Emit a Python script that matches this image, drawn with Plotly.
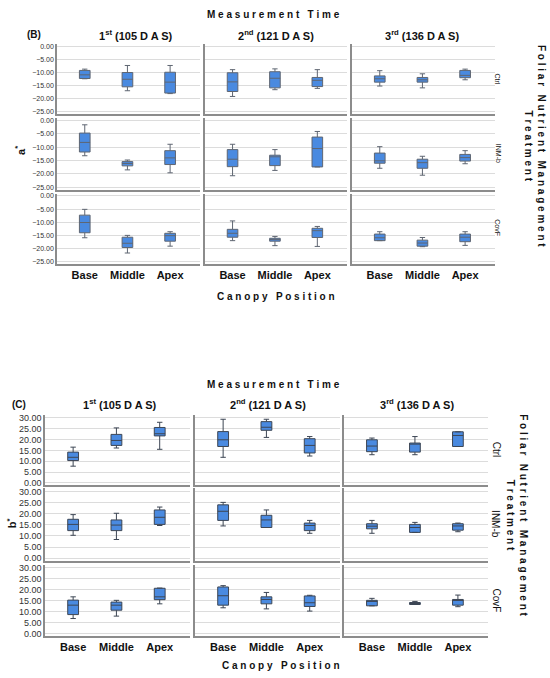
import plotly.graph_objects as go

# canopy positions, measurement times and treatments
positions = ["Base", "Middle", "Apex"]
times = ["1<sup>st</sup> (105 D A S)", "2<sup>nd</sup> (121 D A S)", "3<sup>rd</sup> (136 D A S)"]
treatments = ["Ctrl", "INM-b", "CovF"]

# a* box stats  [treatment][time] -> [Base, Middle, Apex]
a_low = [
    [[-12.3, -16.9, -18.0], [-19.1, -16.5, -16.0], [-15.1, -15.8, -12.7]],
    [[-13.2, -18.5, -19.6], [-20.7, -18.7, -17.4], [-17.9, -20.5, -16.2]],
    [[-15.9, -21.7, -19.1], [-17.0, -18.9, -19.2], [-17.0, -19.3, -18.8]],
]
a_q1 = [
    [[-12.2, -15.4, -17.8], [-17.2, -15.8, -15.3], [-13.6, -13.6, -11.9]],
    [[-11.8, -17.0, -16.5], [-17.3, -16.9, -17.4], [-16.0, -17.9, -15.2]],
    [[-14.0, -19.6, -17.2], [-15.7, -17.2, -15.8], [-17.0, -19.1, -17.4]],
]
a_med = [
    [[-10.8, -12.5, -13.6], [-13.5, -12.1, -12.9], [-12.3, -12.7, -11.0]],
    [[-8.2, -16.1, -14.0], [-14.5, -13.6, -10.5], [-15.1, -15.8, -13.9]],
    [[-10.1, -18.0, -15.1], [-14.2, -16.6, -13.2], [-15.9, -17.9, -15.7]],
]
a_q3 = [
    [[-9.1, -9.9, -9.8], [-10.0, -9.6, -11.8], [-11.2, -11.8, -9.1]],
    [[-4.7, -15.4, -11.3], [-10.9, -13.0, -6.2], [-12.2, -14.5, -12.7]],
    [[-7.3, -15.7, -14.2], [-12.7, -16.1, -12.3], [-14.5, -16.8, -14.5]],
]
a_high = [
    [[-8.6, -7.2, -7.2], [-8.8, -8.5, -8.8], [-9.2, -10.4, -8.6]],
    [[-1.6, -14.8, -8.9], [-8.9, -10.9, -4.1], [-9.8, -13.4, -11.3]],
    [[-5.1, -15.0, -13.6], [-9.5, -15.4, -11.6], [-13.6, -15.8, -13.6]],
]

# b* box stats  [treatment][time] -> [Base, Middle, Apex]
b_low = [
    [[7.7, 16.1, 15.5], [11.8, 21.0, 12.4], [13.0, 13.0, 16.8]],
    [[10.3, 8.4, 14.7], [14.5, 13.8, 11.2], [11.2, 11.6, 11.9]],
    [[6.9, 8.0, 13.6], [11.8, 11.3, 10.3], [12.7, 13.3, 12.3]],
]
b_q1 = [
    [[10.3, 17.3, 21.7], [16.8, 24.3, 13.8], [14.4, 14.2, 16.8]],
    [[12.4, 12.4, 15.2], [17.0, 13.8, 12.4], [13.2, 11.6, 12.6]],
    [[8.7, 10.7, 15.5], [13.0, 13.6, 12.4], [12.7, 13.3, 13.0]],
]
b_med = [
    [[11.8, 19.6, 22.7], [19.9, 25.7, 17.3], [17.0, 17.9, 21.9]],
    [[15.2, 14.9, 18.4], [21.1, 17.2, 14.7], [14.4, 13.8, 14.5]],
    [[13.0, 13.0, 16.8], [17.3, 15.6, 14.1], [14.7, 13.8, 15.3]],
]
b_q3 = [
    [[14.2, 22.4, 25.6], [23.7, 28.3, 20.4], [19.9, 18.4, 23.6]],
    [[17.5, 17.2, 21.7], [24.0, 19.3, 15.8], [15.5, 15.2, 15.5]],
    [[15.3, 14.4, 20.7], [21.3, 16.8, 17.2], [15.2, 14.2, 15.6]],
]
b_high = [
    [[16.5, 25.4, 28.0], [29.4, 29.4, 21.4], [20.7, 21.4, 23.6]],
    [[19.6, 20.2, 23.0], [25.1, 21.7, 17.0], [17.0, 16.1, 15.8]],
    [[16.8, 15.2, 20.8], [21.9, 18.8, 17.5], [16.1, 14.7, 17.6]],
]

W, H = 550, 678
FONT = "Liberation Sans, Arial, sans-serif"
BOX_FILL = "#4a8ae0"
BOX_LINE = "#3d4654"


def px(x):
    return x / W


def py(y):
    return 1 - y / H


def spaced(s):
    # letter-spaced look of the SPSS titles
    return " ".join(s)


fig = go.Figure()

panels = [
    dict(stats=(a_low, a_q1, a_med, a_q3, a_high),
         cols=[(57, 200), (205, 347), (352, 495)],
         rows=[(42.7, 113), (117, 189), (193, 264)],
         yrange=[-25.9, 0.9], ytick=7, line="#5f6672"),
    dict(stats=(b_low, b_q1, b_med, b_q3, b_high),
         cols=[(45, 190), (195, 340), (344, 488)],
         rows=[(416, 487), (490, 563), (567, 639)],
         yrange=[-1.2, 31.4], ytick=9, line=BOX_LINE),
]

k = 0
layout_axes = {}
for p in panels:
    low, q1, med, q3, high = p["stats"]
    for r in range(3):
        for c in range(3):
            k += 1
            xa = "x" if k == 1 else f"x{k}"
            ya = "y" if k == 1 else f"y{k}"
            fig.add_trace(go.Box(
                x=positions, lowerfence=low[r][c], q1=q1[r][c], median=med[r][c],
                q3=q3[r][c], upperfence=high[r][c],
                xaxis=xa, yaxis=ya, width=0.25, whiskerwidth=0.5,
                fillcolor=BOX_FILL, line=dict(color=p["line"], width=1),
                boxpoints=False, showlegend=False, hoverinfo="skip",
            ))
            x0, x1 = p["cols"][c]
            y0, y1 = p["rows"][r]
            layout_axes["xaxis" if k == 1 else f"xaxis{k}"] = dict(
                domain=[px(x0), px(x1)], anchor=ya, range=[-0.65, 2.7],
                showline=True, linecolor="#8c8c8c", linewidth=1.5,
                showgrid=False, ticks="", showticklabels=(r == 2),
                tickfont=dict(family=FONT, size=11, color="#111", weight="bold"),
            )
            layout_axes["yaxis" if k == 1 else f"yaxis{k}"] = dict(
                domain=[py(y1), py(y0)], anchor=xa, range=p["yrange"],
                showline=True, linecolor="#8c8c8c", linewidth=1.5,
                showgrid=True, gridcolor="#dcdcdc", gridwidth=1.2,
                dtick=5, tick0=0, zeroline=False, ticks="",
                tickformat=".2f", showticklabels=(c == 0),
                tickfont=dict(family=FONT, size=p["ytick"], color="#333"),
            )

fig.update_layout(**layout_axes)

ann = []


def add(text, x, y, size, bold=True, angle=0, xanchor="center", color="#111"):
    ann.append(dict(
        text=f"<b>{text}</b>" if bold else text, x=px(x), y=py(y),
        xref="paper", yref="paper", showarrow=False, textangle=angle,
        xanchor=xanchor, yanchor="middle",
        font=dict(family=FONT, size=size, color=color),
    ))


meas = spaced("Measurement") + "   " + spaced("Time")
canopy = spaced("Canopy") + "   " + spaced("Position")
foliar = (spaced("Foliar") + "   " + spaced("Nutrient") + "   " + spaced("Management")
          + "<br>" + spaced("Treatment"))

# panel B texts
add(meas, 273, 13, 10)
add("(B)", 25, 33, 10, xanchor="left")
for t, x in zip(times, [136, 276, 422]):
    add(t, x, 33, 11)
for t, y in zip(treatments, [78, 153, 228]):
    add(t, 498, y, 7, bold=False, angle=90)
add(foliar, 535, 145, 10, angle=90)
add("a<sup>*</sup>", 20, 150, 11, angle=-90)
add(canopy, 276, 297, 10)

# panel C texts
add(meas, 273, 385, 10)
add("(C)", 10, 405, 10, xanchor="left")
for t, x in zip(times, [120, 268, 417]):
    add(t, x, 405, 11)
for t, y in zip(treatments, [451, 526, 603]):
    add(t, 496, y, 10, bold=False, angle=90)
add(foliar, 517, 517, 10, angle=90)
add("b<sup>*</sup>", 12, 525, 11, angle=-90)
add(canopy, 281, 668, 10)

fig.update_layout(
    width=W, height=H, margin=dict(l=0, r=0, t=0, b=0),
    paper_bgcolor="white", plot_bgcolor="white",
    annotations=ann, font=dict(family=FONT),
)

# drop the default 8px page margin so the figure fills the window
fig.write_html("out.html", config={"displayModeBar": False},
               post_script="document.body.style.margin='0px';")
